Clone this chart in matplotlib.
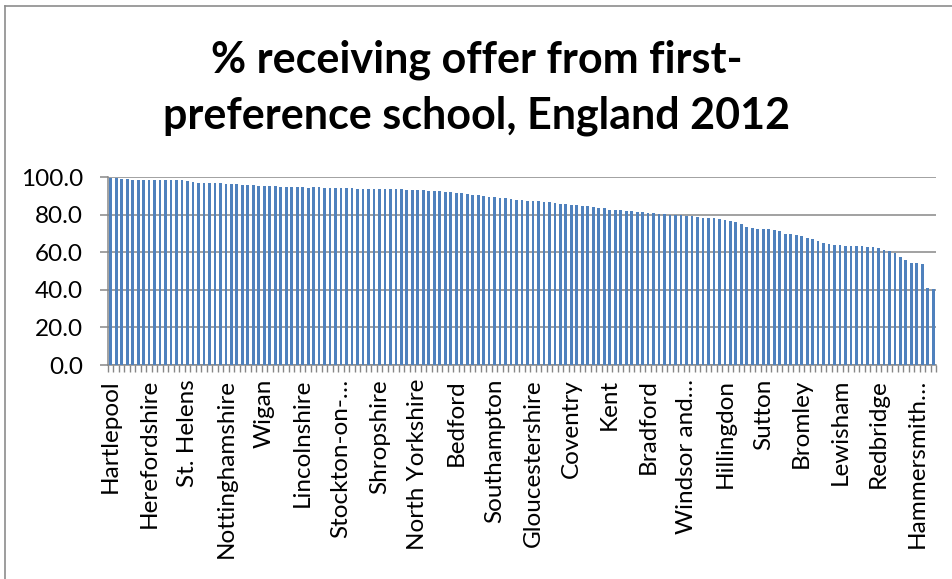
import matplotlib
matplotlib.use("Agg")
import matplotlib.pyplot as plt
from matplotlib.lines import Line2D
import numpy as np

# % receiving offer from first-preference school, 151 local authorities (sorted)
values = [
    99.8, 99.5, 99.3, 99.1, 98.8, 98.8, 98.8, 98.6, 98.6, 98.6,
    98.4, 98.3, 98.3, 98.3, 97.9, 97.7, 97.2, 97.0, 97.0, 97.0,
    96.7, 96.5, 96.3, 96.3, 95.9, 95.8, 95.8, 95.6, 95.4, 95.2,
    95.1, 94.9, 94.7, 94.7, 94.7, 94.7, 94.5,
    94.7, 94.7, 94.5, 94.3, 94.3, 94.2, 94.2, 94.2, 94.0, 94.0,
    93.8, 93.8, 93.8, 93.8, 93.6, 93.6, 93.6, 93.4, 93.4, 93.3,
    93.1, 92.9, 92.8, 92.8, 92.4, 92.2, 91.7, 91.5, 91.0, 90.8,
    90.4, 89.9, 89.7, 89.4, 89.1, 88.8, 88.5, 88.1, 88.0, 87.6,
    87.4, 87.4, 86.9, 86.7, 86.2, 85.8, 85.6, 85.5, 85.3, 84.9,
    84.6, 84.0, 83.7, 83.5, 82.8, 82.6, 82.4, 82.1, 81.9, 81.4,
    81.4, 81.2, 80.8, 80.7, 80.5, 80.1, 80.0, 80.0, 79.6, 79.4,
    79.1, 78.5, 78.5, 78.2, 78.0, 77.3, 76.8, 76.4, 75.3,
    73.7, 72.9, 72.7, 72.5, 72.5, 71.8, 71.3, 69.9, 69.9, 69.1,
    68.8, 67.7, 67.2, 66.3, 65.2, 64.5, 64.0, 64.0, 63.4, 63.3,
    63.3, 63.3, 62.9, 62.7, 62.2, 61.1, 60.8, 59.7, 57.4, 56.0,
    54.4, 54.4, 53.7, 40.9, 40.5,
]

# every 7th category is labelled on the axis
label_names = [
    "Hartlepool", "Herefordshire", "St. Helens", "Nottinghamshire", "Wigan",
    "Lincolnshire", "Stockton-on-…", "Shropshire", "North Yorkshire", "Bedford",
    "Southampton", "Gloucestershire", "Coventry", "Kent", "Bradford",
    "Windsor and…", "Hillingdon", "Sutton", "Bromley", "Lewisham",
    "Redbridge", "Hammersmith…",
]
label_step = 7
yticks = [0, 20, 40, 60, 80, 100]

plt.rcParams["font.family"] = ["Lato", "DejaVu Sans"]

fig = plt.figure(figsize=(9.53, 5.79), dpi=100)
ax = fig.add_axes([108 / 953, 1 - 365 / 579, (936 - 108) / 953, (365 - 177.3) / 579])

x = np.arange(len(values))
ax.bar(x, values, width=0.5, color="#4F81BD", zorder=3)

ax.set_xlim(-0.5, len(values) - 0.5)
ax.set_ylim(0, 100)

grid_c = "#878787"
ax.set_yticks(yticks)
ax.set_yticklabels([f"{v:.1f}" for v in yticks], fontsize=17.5)
ax.yaxis.grid(True, color=grid_c, lw=1.1, zorder=0)
ax.tick_params(axis="y", direction="out", length=6, width=1.1, color=grid_c, pad=12)

ax.set_xticks(x[::label_step])
ax.set_xticklabels(label_names, rotation=90, fontsize=17.5, ha="center", va="top")
ax.set_xticks(np.arange(-0.5, len(values)), minor=True)
ax.tick_params(axis="x", which="major", length=0, pad=10)
ax.tick_params(axis="x", which="minor", direction="out", length=5, width=1.0, color=grid_c)

for side in ["top", "right"]:
    ax.spines[side].set_visible(False)
ax.spines["left"].set_color(grid_c)
ax.spines["bottom"].set_color(grid_c)
ax.spines["left"].set_linewidth(1.1)
ax.spines["bottom"].set_linewidth(1.1)

fig.text(0.5, 1 - 72 / 579, "% receiving offer from first-", ha="center", va="baseline",
         fontsize=31, fontweight="bold")
fig.text(0.5, 1 - 128 / 579, "preference school, England 2012", ha="center", va="baseline",
         fontsize=31, fontweight="bold")

# chart frame (only left and top edges visible in the crop)
fig.add_artist(Line2D([5 / 953, 5 / 953], [0, 1 - 6 / 579], transform=fig.transFigure,
                      color="#8c8c8c", lw=1.2))
fig.add_artist(Line2D([5 / 953, 1], [1 - 6 / 579, 1 - 6 / 579], transform=fig.transFigure,
                      color="#8c8c8c", lw=1.2))

fig.savefig("out.png", dpi=100)
